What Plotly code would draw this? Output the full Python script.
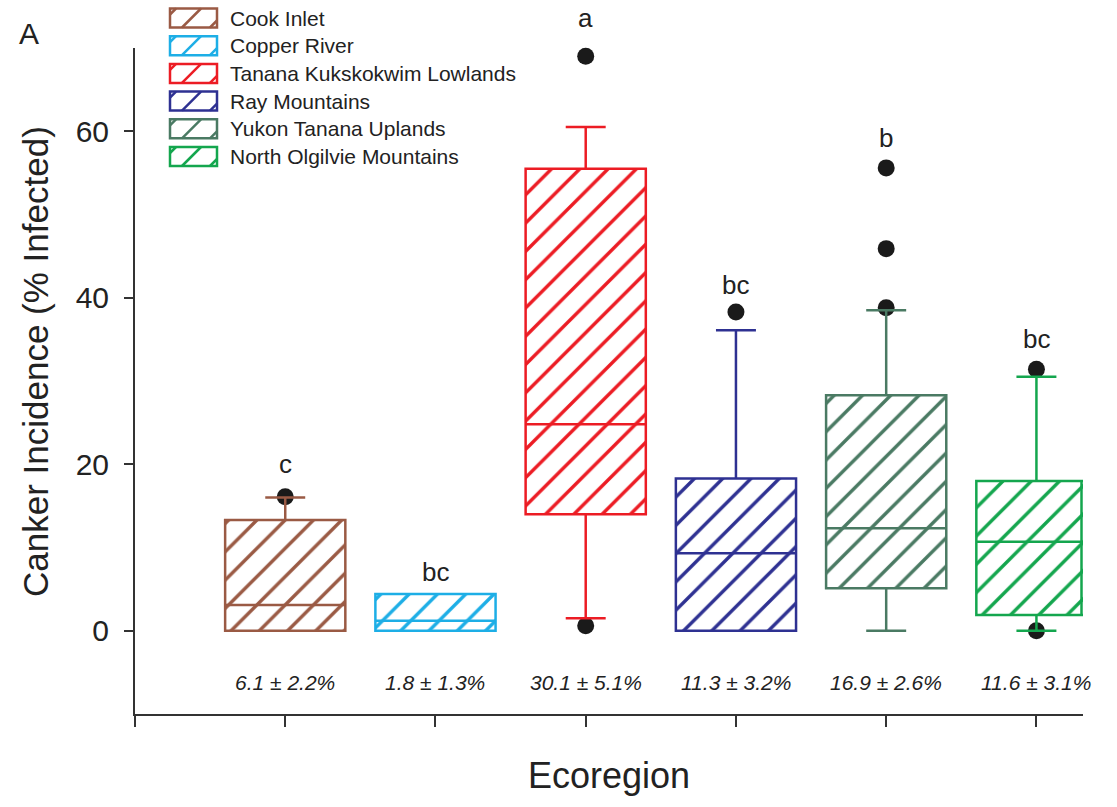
import plotly.graph_objects as go

# Canker incidence by ecoregion: box summaries (percent of trees infected)
regions = [
    "Cook Inlet",
    "Copper River",
    "Tanana Kukskokwim Lowlands",
    "Ray Mountains",
    "Yukon Tanana Uplands",
    "North Olgilvie Mountains",
]
colors = ["#9A5A44", "#1DAEE6", "#EC1C24", "#2E3192", "#4A7A63", "#14A64E"]

q1 = [0.0, 0.0, 14.0, 0.0, 5.1, 1.9]
median = [3.1, 1.2, 24.8, 9.3, 12.3, 10.7]
q3 = [13.3, 4.4, 55.5, 18.3, 28.3, 18.0]
lower_whisker = [0.0, 0.0, 1.5, 0.0, 0.0, 0.0]
upper_whisker = [16.0, 4.4, 60.5, 36.1, 38.5, 30.5]
outliers = [[16.1], [], [69.0, 0.6], [38.3], [55.6, 45.9, 38.8], [31.4, 0.0]]

letters = ["c", "bc", "a", "bc", "b", "bc"]
letter_y = [20.0, 7.0, 73.6, 41.5, 59.2, 35.1]
mean_labels = ["6.1 ± 2.2%", "1.8 ± 1.3%", "30.1 ± 5.1%", "11.3 ± 3.2%", "16.9 ± 2.6%", "11.6 ± 3.1%"]
mean_label_y = -6.2

y_ticks = [0, 20, 40, 60]

FONT = "Arial, Liberation Sans, sans-serif"
W, H = 1117, 807
ML, MR, MT, MB = 135, 34, 48, 93
PW, PH = W - ML - MR, H - MT - MB
X_RANGE = [-1.0, 5.31]
Y_RANGE = [-10, 70]
BOX_HALF = 0.4
CAP_HALF = 0.133
LW = 2.5


def px_x(px):
    return (px - ML) / PW


def px_y(py):
    return (H - MB - py) / PH


def value_to_paper(v):
    # y value -> paper fraction, so labels above the axis top still show
    return (v - Y_RANGE[0]) / (Y_RANGE[1] - Y_RANGE[0])


fig = go.Figure()

# hatched interquartile boxes
for i, name in enumerate(regions):
    c = colors[i]
    fig.add_trace(go.Bar(
        x=[i], y=[q3[i] - q1[i]], base=[q1[i]], width=2 * BOX_HALF,
        name=name, showlegend=False,
        marker=dict(
            color="white",
            line=dict(color=c, width=LW),
            pattern=dict(shape="/", fgcolor=c, bgcolor="white", size=20,
                         solidity=0.17, fillmode="replace"),
        ),
        hoverinfo="skip",
    ))

# outlying observations
for i in range(len(regions)):
    if outliers[i]:
        fig.add_trace(go.Scatter(
            x=[i] * len(outliers[i]), y=outliers[i], mode="markers",
            marker=dict(color="#1a1a1a", size=17), showlegend=False,
            hoverinfo="skip", cliponaxis=False,
        ))

# medians, whiskers and caps
for i in range(len(regions)):
    xs, ys = [i - BOX_HALF, i + BOX_HALF, None], [median[i], median[i], None]
    if upper_whisker[i] > q3[i]:
        xs += [i, i, None, i - CAP_HALF, i + CAP_HALF, None]
        ys += [q3[i], upper_whisker[i], None, upper_whisker[i], upper_whisker[i], None]
    if lower_whisker[i] < q1[i]:
        xs += [i, i, None, i - CAP_HALF, i + CAP_HALF, None]
        ys += [q1[i], lower_whisker[i], None, lower_whisker[i], lower_whisker[i], None]
    # a box running past the end of the axis is closed off at the axis end
    if i + BOX_HALF > X_RANGE[1]:
        edge = X_RANGE[1] - 0.01
        xs += [edge, edge, None]
        ys += [q1[i], q3[i], None]
    fig.add_trace(go.Scatter(
        x=xs, y=ys, mode="lines", line=dict(color=colors[i], width=LW),
        showlegend=False, hoverinfo="skip", cliponaxis=True,
    ))

annotations = []
for i in range(len(regions)):
    annotations.append(dict(
        x=i, y=value_to_paper(letter_y[i]), xref="x", yref="paper", text=letters[i],
        showarrow=False, xanchor="center", yanchor="middle",
        font=dict(family=FONT, size=26, color="#222"),
    ))
    annotations.append(dict(
        x=i, y=mean_label_y, xref="x", yref="y", text="<i>" + mean_labels[i] + "</i>",
        xanchor="center", yanchor="middle",
        showarrow=False, font=dict(family=FONT, size=21, color="#222"),
    ))

# axis titles and panel label
annotations.append(dict(
    x=px_x(35), y=px_y(362), xref="paper", yref="paper", text="Canker Incidence (% Infected)",
    xanchor="center", yanchor="middle",
    textangle=-90, showarrow=False, font=dict(family=FONT, size=35, color="#222"),
))
annotations.append(dict(
    x=px_x(609), y=px_y(775), xref="paper", yref="paper", text="Ecoregion",
    xanchor="center", yanchor="middle",
    showarrow=False, font=dict(family=FONT, size=36, color="#222"),
))
annotations.append(dict(
    x=px_x(28.5), y=px_y(34), xref="paper", yref="paper", text="A",
    xanchor="center", yanchor="middle",
    showarrow=False, font=dict(family=FONT, size=30, color="#222"),
))

# key: hatched swatches with region names
shapes = []
row0, row_step = 18.0, 27.7
sx0, sx1, sh = 170, 217, 9.5
for i, name in enumerate(regions):
    yc = row0 + i * row_step
    c = colors[i]
    shapes.append(dict(
        type="rect", xref="paper", yref="paper",
        x0=px_x(sx0), x1=px_x(sx1), y0=px_y(yc + sh), y1=px_y(yc - sh),
        line=dict(color=c, width=LW), fillcolor="white",
    ))
    for a, b in [(182, 201), (sx0, sx0 + 6), (sx1 - 7, sx1)]:
        if a == sx0:
            ya, yb = yc - sh + 6, yc - sh
        elif b == sx1:
            ya, yb = yc + sh, yc + sh - 7
        else:
            ya, yb = yc + sh, yc - sh
        shapes.append(dict(
            type="line", xref="paper", yref="paper",
            x0=px_x(a), x1=px_x(b), y0=px_y(ya), y1=px_y(yb),
            line=dict(color=c, width=LW),
        ))
    annotations.append(dict(
        x=px_x(228), y=px_y(yc), xref="paper", yref="paper", text=name,
        xanchor="left", yanchor="middle", showarrow=False,
        font=dict(family=FONT, size=21, color="#222"),
    ))

fig.update_layout(
    width=W, height=H,
    margin=dict(l=ML, r=MR, t=MT, b=MB, pad=0),
    paper_bgcolor="white", plot_bgcolor="white",
    barmode="overlay", showlegend=False,
    annotations=annotations, shapes=shapes,
    font=dict(family=FONT, color="#222"),
)
fig.update_xaxes(
    range=X_RANGE, showgrid=False, zeroline=False,
    showline=True, linecolor="#333", linewidth=2,
    ticks="outside", ticklen=11, tickwidth=2, tickcolor="#333",
    tickvals=[-1, 0, 1, 2, 3, 4, 5], ticktext=[""] * 7,
)
fig.update_yaxes(
    range=Y_RANGE, showgrid=False, zeroline=False,
    showline=True, linecolor="#333", linewidth=2,
    ticks="outside", ticklen=9, tickwidth=2, tickcolor="#333",
    tickvals=y_ticks, ticktext=[str(t) for t in y_ticks],
    tickfont=dict(family=FONT, size=30, color="#222"), ticklabelstandoff=9,
)

fig.write_html("out.html")
